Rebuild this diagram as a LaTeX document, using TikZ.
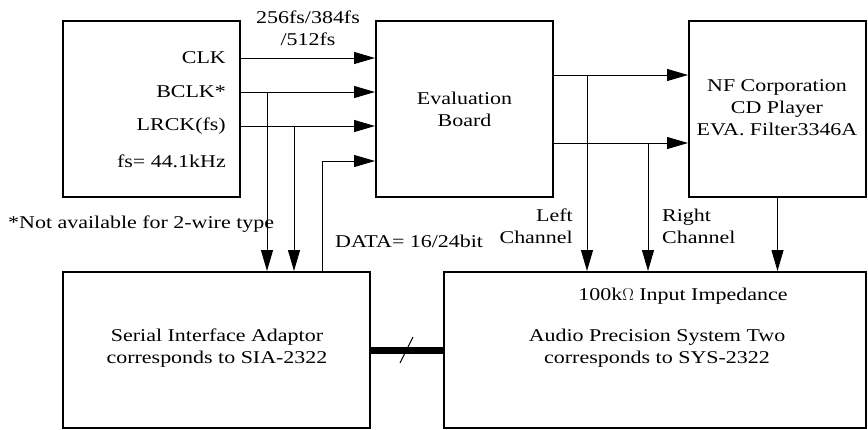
\documentclass[tikz,border=0pt]{standalone}
\usepackage{fontspec}
\setmainfont{Liberation Serif}[FakeStretch=1.22]
\usetikzlibrary{arrows.meta}

\tikzset{
  block/.style={draw, line width=2pt, inner sep=0pt},
  sig/.style={line width=1pt, -{Triangle[length=21pt,width=12pt]}},
  wire/.style={line width=1pt},
  lbl/.style={inner sep=0pt, font=\fontsize{18}{22}\selectfont}
}

\begin{document}
\begin{tikzpicture}[
  x=1pt,
  y=-1pt,
  line cap=butt,
  line join=miter
]
  \useasboundingbox (0,0) rectangle (868,429);

  % Blocks
  \node[block, minimum width=177pt, minimum height=176pt]
    (src) at (151.5,109) {};
  \node[block, minimum width=177pt, minimum height=176pt]
    (eval) at (464.5,109) {};
  \node[block, minimum width=177pt, minimum height=176pt]
    (nf) at (777.5,109) {};
  \node[block, minimum width=307pt, minimum height=156pt]
    (sia) at (216.5,350) {};
  \node[block, minimum width=422pt, minimum height=156pt]
    (ap) at (655,350) {};

  % Texts inside the blocks
  \node[lbl, anchor=east] (clk) at (226,58) {CLK};
  \node[lbl, anchor=east] (bclk) at (226,92) {BCLK*};
  \node[lbl, anchor=east] (lrck) at (226,126) {LRCK(fs)};
  \node[lbl, anchor=east] (fs) at (226,161) {fs= 44.1kHz};
  \node[lbl, align=center] (evaltxt) at (eval) {Evaluation\\Board};
  \node[lbl, align=center] (nftxt) at (777,108)
    {NF Corporation\\CD Player\\EVA. Filter3346A};
  \node[lbl, align=center] (siatxt) at (217,348)
    {Serial Interface Adaptor\\corresponds to SIA-2322};
  \node[lbl] (imp) at (683,296) {100k$\Omega$ Input Impedance};
  \node[lbl, align=center] (aptxt) at (657,348)
    {Audio Precision System Two\\corresponds to SYS-2322};

  % Free labels
  \node[lbl, align=center] (mclk) at (308,28) {256fs/384fs\\/512fs};
  \node[lbl, anchor=west] (note) at (8,224) {*Not available for 2-wire type};
  \node[lbl, anchor=west] (data) at (335,241) {DATA= 16/24bit};
  \node[lbl, align=right, anchor=east] (left) at (573,226) {Left\\Channel};
  \node[lbl, align=left, anchor=west] (right) at (662,226) {Right\\Channel};

  % Clocks into the evaluation board
  \draw[sig] (clk -| src.east) -- (clk -| eval.west);
  \draw[sig] (bclk -| src.east) -- (bclk -| eval.west);
  \draw[sig] (lrck -| src.east) -- (lrck -| eval.west);

  % Taps down to the adaptor
  \coordinate (tapb) at (267,92);
  \coordinate (tapl) at (294,126);
  \draw[sig] (tapb) -- (tapb |- sia.north);
  \draw[sig] (tapl) -- (tapl |- sia.north);

  % Data from the adaptor
  \coordinate (dbend) at (322,161);
  \draw[sig] (dbend |- sia.north) -- (dbend) -- (dbend -| eval.west);

  % Analog outputs of the board
  \coordinate (outl) at (553,75);
  \coordinate (outr) at (553,143);
  \coordinate (tapol) at (587,75);
  \coordinate (tapor) at (648,143);
  \draw[sig] (outl) -- (outl -| nf.west);
  \draw[sig] (outr) -- (outr -| nf.west);
  \draw[sig] (tapol) -- (tapol |- ap.north);
  \draw[sig] (tapor) -- (tapor |- ap.north);

  % Filter output
  \draw[sig] (nf.south) -- (nf.south |- ap.north);

  % Bus between adaptor and analyzer
  \draw[line width=7pt] (sia.east) -- (ap.west);
  \coordinate (slash) at (406.5,350);
  \draw[wire] ([shift={(-6.5,13)}]slash) -- ([shift={(6.5,-13)}]slash);
\end{tikzpicture}
\end{document}
